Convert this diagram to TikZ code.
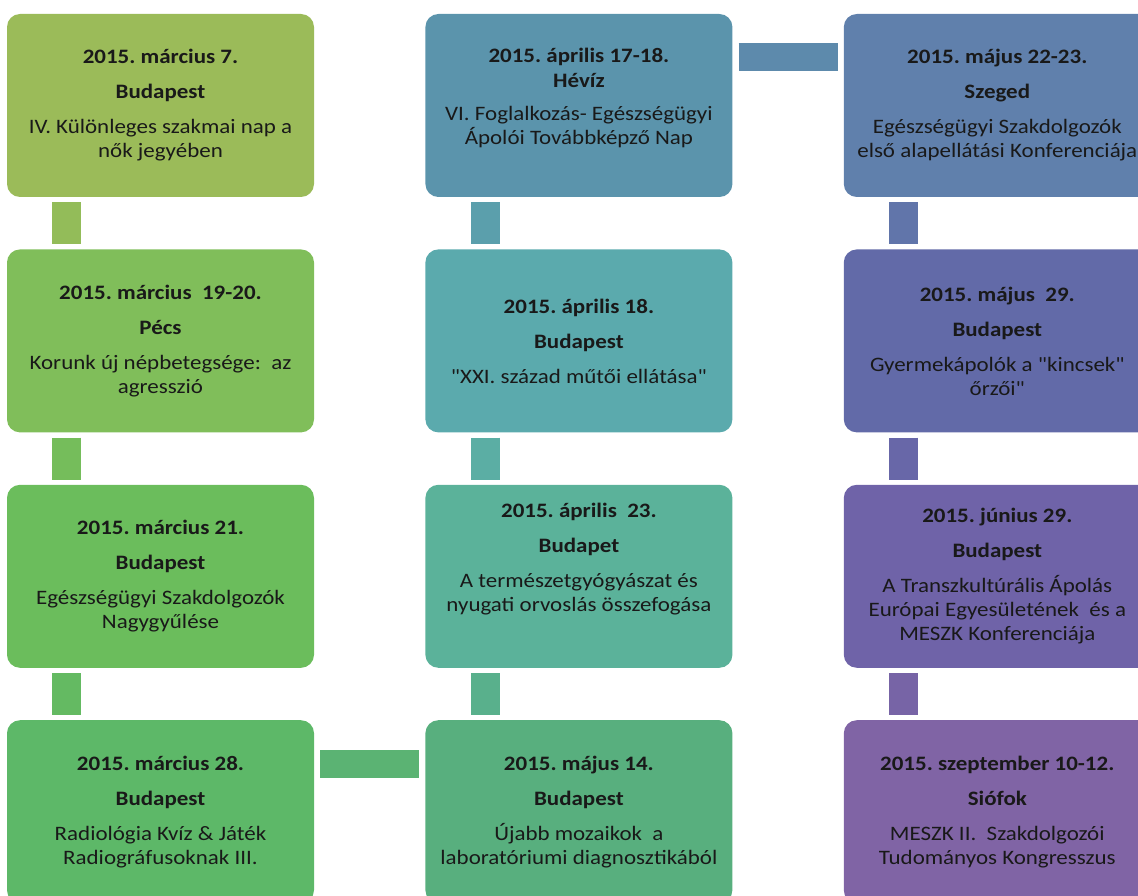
\documentclass[tikz,border=0pt]{standalone}
\usepackage{fontspec}
\setmainfont{Carlito}[FakeStretch=1.12, Ligatures=TeXOff]
\frenchspacing
\usetikzlibrary{positioning}

% event colours, in timeline order
\definecolor{marA}{HTML}{9BBB59}
\definecolor{marB}{HTML}{80BE5A}
\definecolor{marC}{HTML}{6BBD5C}
\definecolor{marD}{HTML}{5DB868}
\definecolor{mayA}{HTML}{58AF7E}
\definecolor{aprC}{HTML}{5BB29A}
\definecolor{aprB}{HTML}{5BAAAD}
\definecolor{aprA}{HTML}{5B94AC}
\definecolor{mayB}{HTML}{6080AC}
\definecolor{mayC}{HTML}{626AA8}
\definecolor{junA}{HTML}{6F63A8}
\definecolor{sepA}{HTML}{8064A5}

\newcommand{\evtext}[3]{\textbf{#1}\\[11pt]\textbf{#2}\\[11pt]#3}

\begin{document}
\begin{tikzpicture}[
    node distance=52pt and 111pt,
    evbox/.style={rectangle, rounded corners=13pt, fill=#1, minimum width=307pt, minimum height=183pt, inner sep=0pt, align=center, text=black!90, font=\fontsize{20.5}{24}\selectfont},
    vlink/.style={draw=#1, line width=29pt},
    hlink/.style={draw=#1, line width=28pt}
]
\useasboundingbox (0,0) rectangle (1138pt,-896pt);
\clip (0,0) rectangle (1138pt,-896pt);

% === MARCH (left column) ===
\node[evbox=marA] (mar07) at (160.5pt,-105.5pt) {\evtext{2015. március 7.}{Budapest}{IV. Különleges szakmai nap a\\nők jegyében}};
\node[evbox=marB, below=of mar07] (mar19) {\evtext{2015. március~ 19-20.}{Pécs}{Korunk új népbetegsége:~ az\\agresszió}};
\node[evbox=marC, below=of mar19] (mar21) {\evtext{2015. március 21.}{Budapest}{Egészségügyi Szakdolgozók\\Nagygyűlése}};
\node[evbox=marD, below=of mar21] (mar28) {\evtext{2015. március 28.}{Budapest}{Radiológia Kvíz \& Játék\\Radiográfusoknak III.}};

% === APRIL (middle column, bottom up) ===
\node[evbox=mayA, right=of mar28] (may14) {\evtext{2015. május 14.}{Budapest}{Újabb mozaikok~ a\\laboratóriumi diagnosztikából}};
\node[evbox=aprC, above=of may14] (apr23) {\evtext{2015. április~ 23.}{Budapet}{A természetgyógyászat és\\nyugati orvoslás összefogása\\[14pt]\mbox{}}};
\node[evbox=aprB, above=of apr23] (apr18) {\evtext{2015. április 18.}{Budapest}{"XXI. század műtői ellátása"}};
\node[evbox=aprA, above=of apr18] (apr17) {\textbf{2015. április 17-18.}\\[1pt]\textbf{Hévíz}\\[9pt]VI. Foglalkozás- Egészségügyi\\Ápolói Továbbképző Nap\\[-6pt]\mbox{}};

% === MAY - SEPTEMBER (right column) ===
\node[evbox=mayB, right=of apr17] (may22) {\evtext{2015. május 22-23.}{Szeged}{Egészségügyi Szakdolgozók\\első alapellátási Konferenciája}};
\node[evbox=mayC, below=of may22] (may29) {\evtext{2015. május~ 29.}{Budapest}{Gyermekápolók a "kincsek"\\őrzői"}};
\node[evbox=junA, below=of may29] (jun29) {\evtext{2015. június 29.}{Budapest}{A Transzkultúrális Ápolás\\Európai Egyesületének~ és a\\MESZK Konferenciája}};
\node[evbox=sepA, below=of jun29] (sep10) {\evtext{2015. szeptember 10-12.}{Siófok}{MESZK II.~ Szakdolgozói\\Tudományos Kongresszus}};

% === Links between the events ===
\draw[vlink=marA!70!marB] ([xshift=60pt,yshift=-5pt]mar07.south west) -- ([xshift=60pt,yshift=5pt]mar19.north west);
\draw[vlink=marB!50!marC] ([xshift=60pt,yshift=-5pt]mar19.south west) -- ([xshift=60pt,yshift=5pt]mar21.north west);
\draw[vlink=marC!50!marD] ([xshift=60pt,yshift=-5pt]mar21.south west) -- ([xshift=60pt,yshift=5pt]mar28.north west);
% across to the middle column
\draw[hlink=marD!50!mayA] ([xshift=6pt,yshift=-44pt]mar28.north east) -- ([xshift=-6pt,yshift=-44pt]may14.north west);
\draw[vlink=mayA!50!aprC] ([xshift=60pt,yshift=-5pt]apr23.south west) -- ([xshift=60pt,yshift=5pt]may14.north west);
\draw[vlink=aprC!50!aprB] ([xshift=60pt,yshift=-5pt]apr18.south west) -- ([xshift=60pt,yshift=5pt]apr23.north west);
\draw[vlink=aprB!50!aprA] ([xshift=60pt,yshift=-5pt]apr17.south west) -- ([xshift=60pt,yshift=5pt]apr18.north west);
% across to the right column
\draw[hlink=aprA!50!mayB] ([xshift=6pt,yshift=-43pt]apr17.north east) -- ([xshift=-6pt,yshift=-43pt]may22.north west);
\draw[vlink=mayB!50!mayC] ([xshift=60pt,yshift=-5pt]may22.south west) -- ([xshift=60pt,yshift=5pt]may29.north west);
\draw[vlink=mayC!50!junA] ([xshift=60pt,yshift=-5pt]may29.south west) -- ([xshift=60pt,yshift=5pt]jun29.north west);
\draw[vlink=junA!50!sepA] ([xshift=60pt,yshift=-5pt]jun29.south west) -- ([xshift=60pt,yshift=5pt]sep10.north west);

\end{tikzpicture}
\end{document}
